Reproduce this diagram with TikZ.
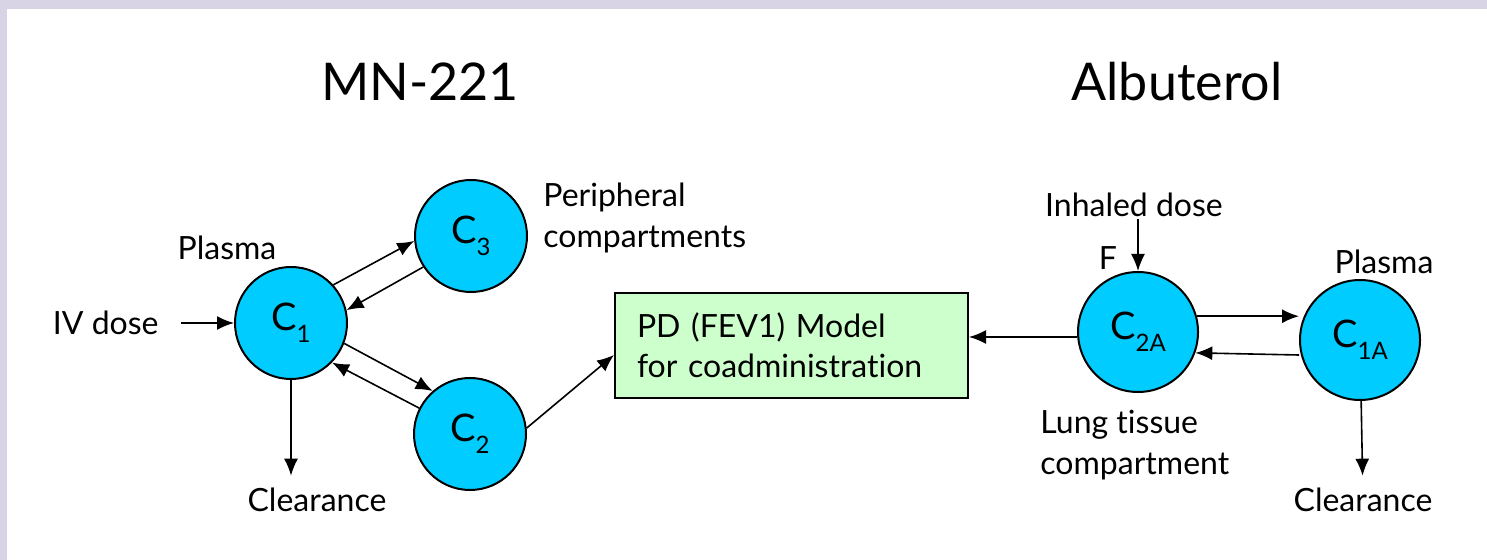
\documentclass[tikz,border=0pt]{standalone}
\usepackage{fontspec}
\setmainfont{Lato}[Ligatures=NoCommon]
\definecolor{PlasmaCyan}{RGB}{0,204,255}
\definecolor{ModelGreen}{RGB}{204,255,204}
\definecolor{FrameLilac}{RGB}{216,212,230}
\usetikzlibrary{arrows.meta, positioning}
\newcommand{\conc}[1]{C\raisebox{-0.6ex}{\fontsize{12}{12}\selectfont #1}}

\begin{document}
\begin{tikzpicture}[x=0.5pt, y=-0.5pt]
        \tikzstyle{comp} = [circle, draw, line width=1pt, fill=PlasmaCyan,
            inner sep=0pt, minimum size=56pt, font=\fontsize{19}{21}\selectfont]
        \tikzstyle{bigcomp} = [comp, minimum size=60pt]
        \tikzstyle{box} = [rectangle, draw, line width=1pt, fill=ModelGreen,
            text width=154.5pt, inner xsep=11pt, align=left,
            minimum height=52.5pt, font=\fontsize{16}{20}\selectfont]
        \tikzstyle{txt} = [font=\fontsize{16}{20.5}\selectfont, inner sep=1pt]
        \tikzstyle{title} = [font=\fontsize{26}{30}\selectfont]
        \tikzstyle{line} = [draw, -{Latex[length=8.5pt,width=7pt]}, line width=0.8pt]

        % frame
        \fill[FrameLilac] (0,0) rectangle (1487,560);
        \fill[white] (7,9) rectangle (1487,560);
        \useasboundingbox (0,0) rectangle (1487,560);

        \node [title] (mn) at (420,82) {MN-221};
        \node [title] (alb) at (1177,82) {Albuterol};

        % MN-221 compartments
        \node [comp] (c1) at (291,323) {\conc{1}};
        \node [comp] (c3) at (471,236) {\conc{3}};
        \node [comp] (c2) at (470,434) {\conc{2}};
        \node [txt] (plasma1) at (227,248) {Plasma};
        \node [txt, anchor=east] (iv) at (161,323) {IV dose};
        \node [txt, align=left, anchor=west] (periph) at (541,218) {Peripheral\\compartments};
        \node [txt] (clr1) at (317,500) {Clearance};

        \node [box] (pd) at (791.5,345.5) {PD (FEV1) Model\\for coadministration};

        % Albuterol compartments
        \node [bigcomp] (c2a) at (1138,332) {\conc{2A}};
        \node [bigcomp] (c1a) at (1360,340) {\conc{1A}};
        \node [txt] (inh) at (1134,205) {Inhaled dose};
        \node [txt] (f) at (1108,258) {F};
        \node [txt] (plasma2) at (1384,262) {Plasma};
        \node [txt, align=left, anchor=west] (lung) at (1038,445) {Lung tissue\\compartment};
        \node [txt] (clr2) at (1363,500) {Clearance};

        \path [line, shorten <=10pt] (iv) -- (c1);
        \path [line] (c1.42) -- (c3.185);
        \path [line] (c3.213) -- (c1.13);
        \path [line] (c1.-21) -- (c2.131);
        \path [line] (c2.153) -- (c1.-44);
        \path [line, shorten >=5pt] (c1.south) -- (c1.south |- clr1.north);
        \path [line] (c2.6) -- ([yshift=-4.75pt]pd.west);

        \path [line] ([yshift=-2.5pt]c2a.west) -- ([yshift=-2.5pt]c2a.west -| pd.east);
        \path [line] (inh.south -| c2a.north) -- (c2a.north);
        \path [line] (c2a.15) -- (c2a.15 -| c1a.west);
        \path [line] ([yshift=-7.5pt]c1a.west) -- (c2a.-20);
        \path [line, shorten >=5pt] (c1a) -- (clr2);
    \end{tikzpicture}
\end{document}
